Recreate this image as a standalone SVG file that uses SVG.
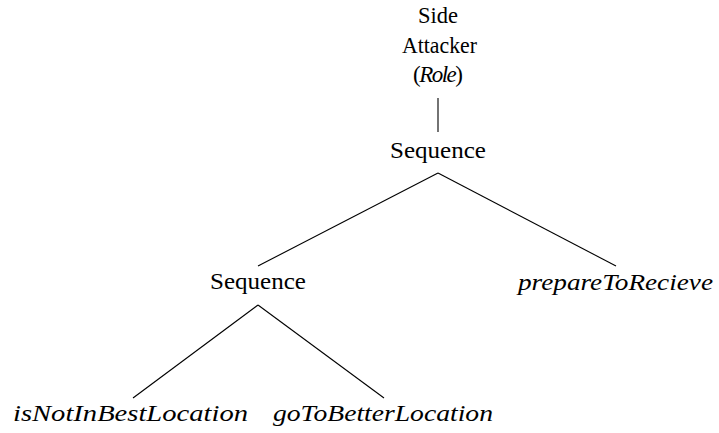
<svg xmlns="http://www.w3.org/2000/svg" width="719" height="433" viewBox="0 0 719 433">
  <style>
    .lbl { font-size: 23px; fill: #000; text-anchor: middle; }
    .it { font-style: italic; }
    .edge { stroke: #000; stroke-width: 1.1; fill: none; }
  </style>
  <rect width="719" height="433" fill="#fff"/>

  <!-- tree edges -->
  <g id="connectors">
    <line class="edge" x1="438" y1="98" x2="438" y2="132"/>
    <line class="edge" x1="438" y1="173" x2="258" y2="266"/>
    <line class="edge" x1="438" y1="173" x2="616" y2="266"/>
    <line class="edge" x1="258" y1="305" x2="133" y2="398"/>
    <line class="edge" x1="258" y1="305" x2="384" y2="398"/>
  </g>

  <g font-family="Liberation Serif, DejaVu Serif, serif">
    <g id="role">
      <text class="lbl" x="438" y="23" textLength="40" lengthAdjust="spacingAndGlyphs">Side</text>
      <text class="lbl" x="439.5" y="53" textLength="75" lengthAdjust="spacingAndGlyphs">Attacker</text>
      <text class="lbl" x="438" y="82" textLength="50" lengthAdjust="spacing">(<tspan class="it">Role</tspan>)</text>
    </g>

    <g id="sequence-root">
      <text class="lbl" x="438" y="158" textLength="96" lengthAdjust="spacingAndGlyphs">Sequence</text>
    </g>

    <g id="sequence-child">
      <text class="lbl" x="258" y="289" textLength="96" lengthAdjust="spacingAndGlyphs">Sequence</text>
    </g>

    <g id="prepare-to-recieve">
      <text class="lbl it" x="615.5" y="290" textLength="195" lengthAdjust="spacingAndGlyphs">prepareToRecieve</text>
    </g>

    <g id="is-not-in-best-location">
      <text class="lbl it" x="130.5" y="421" textLength="235" lengthAdjust="spacingAndGlyphs">isNotInBestLocation</text>
    </g>

    <g id="go-to-better-location">
      <text class="lbl it" x="383" y="421" textLength="220" lengthAdjust="spacingAndGlyphs">goToBetterLocation</text>
    </g>
  </g>
</svg>
